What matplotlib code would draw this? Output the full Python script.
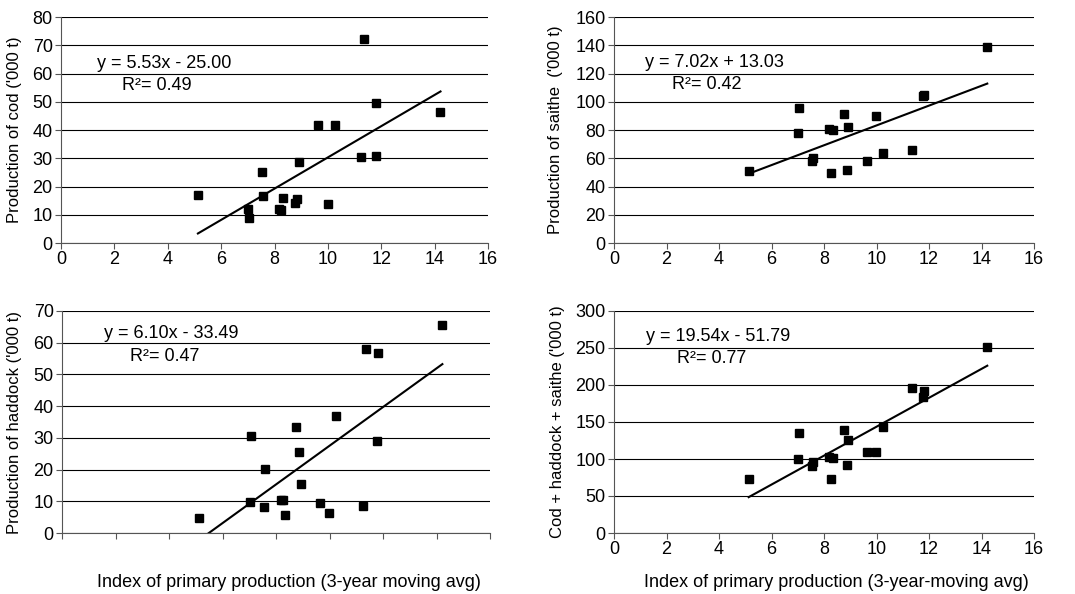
import numpy as np
import matplotlib.pyplot as plt

plt.rcParams['font.family'] = ['Liberation Sans', 'DejaVu Sans']
plt.rcParams['font.size'] = 13

# index of primary production (3-year moving avg), one value per year
PP_INDEX = [5.13, 7.02, 7.05, 7.54, 7.58, 8.18, 8.26, 8.33, 8.75, 8.86,
            8.93, 9.64, 9.99, 10.25, 11.24, 11.36, 11.79, 11.82, 14.22]

COD = [17.0, 12.2, 8.9, 25.1, 16.6, 12.1, 11.8, 15.9, 14.0, 15.4,
       28.6, 41.9, 13.8, 41.9, 30.6, 72.2, 49.6, 30.8, 46.4]
SAITHE = [51.0, 78.1, 95.6, 57.8, 59.9, 80.9, 49.8, 79.8, 91.6, 51.7,
          82.1, 58.1, 89.7, 63.5, np.nan, 65.8, 104.1, 104.5, 139.0]
HADDOCK = [4.7, 9.8, 30.6, 8.2, 20.3, 10.5, 10.5, 5.7, 33.5, 25.5,
           15.6, 9.5, 6.4, 36.9, 8.6, 58.1, 29.0, 56.9, 65.7]
TOTAL = [72.8, 99.7, 135.2, 90.7, 96.1, 103.3, 72.8, 101.0, 138.8, 92.5,
         126.2, 109.6, 109.6, 142.8, np.nan, 196.3, 183.7, 192.2, 251.0]

# trend line coefficients (slope, intercept) and R^2 as printed on the chart
FITS = {
    "cod": (5.53, -25.00, 0.49),
    "saithe": (7.02, 13.03, 0.42),
    "haddock": (6.10, -33.49, 0.47),
    "total": (19.54, -51.79, 0.77),
}

PANELS = [
    ("cod", COD, "Production of cod ('000 t)", 80, 10, True, None),
    ("saithe", SAITHE, "Production of saithe  ('000 t)", 160, 20, True, None),
    ("haddock", HADDOCK, "Production of haddock ('000 t)", 70, 10, False,
     "Index of primary production (3-year moving avg)"),
    ("total", TOTAL, "Cod + haddock + saithe ('000 t)", 300, 50, True,
     "Index of primary production (3-year-moving avg)"),
]

# axes rectangles in figure pixels: left, bottom-y-pixel, right, top-y-pixel
W, H = 1075, 594
BOXES = [(61, 243, 488, 17), (614, 243, 1034, 17),
         (62, 533, 490, 311), (614, 533, 1034, 311)]
YLAB_X = [-0.091, -0.122, -0.093, -0.117]
EQ_POS = [((1.34, 63.7), (2.3, 55.6)), ((1.18, 128), (2.22, 112)),
          ((1.58, 62.9), (2.54, 55.7)), ((1.22, 265), (2.39, 235.8))]

fig = plt.figure(figsize=(W / 100, H / 100), dpi=100)
x = np.array(PP_INDEX)

for i, (key, vals, ylab, ymax, ystep, xlabels, xlab) in enumerate(PANELS):
    l, b, r, t = BOXES[i]
    ax = fig.add_axes([l / W, 1 - b / H, (r - l) / W, (b - t) / H])
    y = np.array(vals)
    ax.plot(x, y, "s", color="black", ms=6, zorder=3)

    slope, icpt, r2 = FITS[key]
    xs = np.array([x.min(), x.max()])
    ax.plot(xs, slope * xs + icpt, color="black", lw=1.5, zorder=2)

    ax.set_xlim(0, 16)
    ax.set_ylim(0, ymax)
    ax.set_xticks(range(0, 17, 2))
    ax.set_yticks(range(0, ymax + 1, ystep))
    if not xlabels:
        ax.set_xticklabels([])
    ax.grid(axis="y", color="black", lw=0.8)
    ax.set_axisbelow(True)
    for s in ("top", "right"):
        ax.spines[s].set_visible(False)
    for s in ("left", "bottom"):
        ax.spines[s].set_color("#555555")
    ax.tick_params(length=4, color="#555555", labelsize=13, pad=2)

    ax.set_ylabel(ylab, fontsize=12)
    ax.yaxis.set_label_coords(YLAB_X[i], 0.5)
    if xlab:
        ax.set_xlabel(xlab, fontsize=13)
        ax.xaxis.set_label_coords(0.53, -0.185)

    sign = "+" if icpt >= 0 else "-"
    (ex, ey), (rx, ry) = EQ_POS[i]
    ax.text(ex, ey, f"y = {slope:.2f}x {sign} {abs(icpt):.2f}",
            ha="left", va="center", fontsize=13)
    ax.text(rx, ry, f"R\u00b2= {r2:.2f}", ha="left", va="center", fontsize=13)

plt.savefig("out.png", dpi=100)
plt.close()
